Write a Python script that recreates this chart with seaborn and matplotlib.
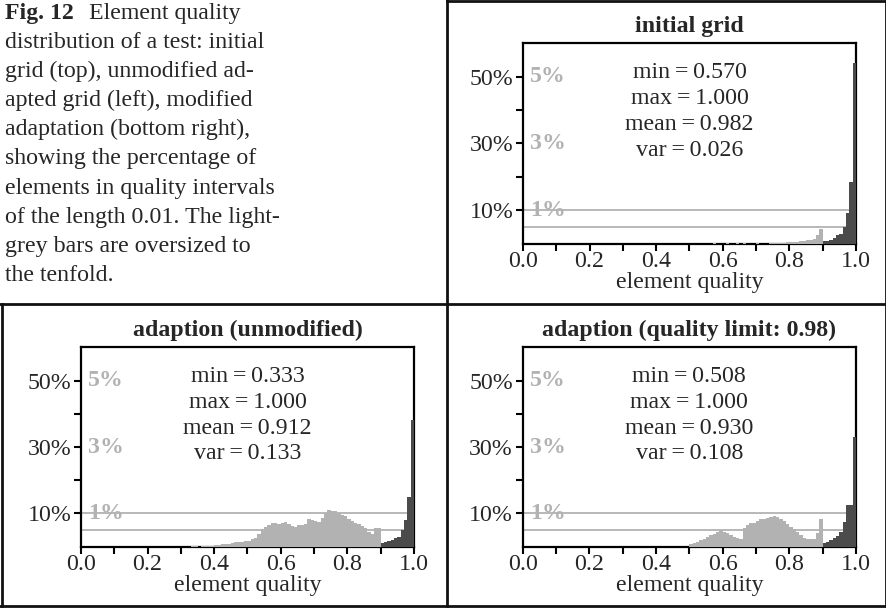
import numpy as np
import pandas as pd
import matplotlib
matplotlib.use("Agg")
import matplotlib.pyplot as plt
from matplotlib.lines import Line2D
from matplotlib.ticker import FixedLocator
import seaborn as sns

# ---------------- data ----------------
BIN_WIDTH = 0.01          # quality interval length
LIGHT_LIMIT = 0.90        # bins below this are drawn light grey ...
LIGHT_SCALE = 10          # ... and oversized tenfold

panel_titles = ["initial grid", "adaption (unmodified)", "adaption (quality limit: 0.98)"]
stat_min = [0.570, 0.333, 0.508]
stat_max = [1.000, 1.000, 1.000]
stat_mean = [0.982, 0.912, 0.930]
stat_var = [0.026, 0.133, 0.108]

# percentage of elements per 0.01 quality interval, starting at the first bin given
initial_first_bin = 0.57
initial_pct = [0.03, 0.00, 0.00, 0.00, 0.03, 0.00, 0.00, 0.03, 0.00, 0.03,   # 0.57-0.66
               0.00, 0.00, 0.00, 0.03, 0.00, 0.00, 0.00, 0.03, 0.02, 0.03,   # 0.67-0.76
               0.03, 0.03, 0.04, 0.04, 0.05, 0.06, 0.07, 0.09, 0.10, 0.12,   # 0.77-0.86
               0.15, 0.25, 0.43,                                             # 0.87-0.89
               0.8, 0.8, 1.2, 1.8, 2.5, 2.8, 5.0, 9.2, 18.6, 54.0]           # 0.90-0.99

unmodified_first_bin = 0.33
unmodified_pct = [0.02, 0.02, 0.00, 0.02, 0.02, 0.03, 0.03, 0.04, 0.05, 0.07,  # 0.33-0.42
                  0.08, 0.09, 0.11, 0.14, 0.14, 0.15, 0.16, 0.17, 0.22, 0.27,  # 0.43-0.52
                  0.39, 0.52, 0.60, 0.64, 0.72, 0.70, 0.69, 0.72, 0.74, 0.67,  # 0.53-0.62
                  0.62, 0.59, 0.64, 0.65, 0.67, 0.84, 0.80, 0.77, 0.74, 0.87,  # 0.63-0.72
                  1.02, 1.09, 1.07, 1.07, 1.00, 0.94, 0.92, 0.84, 0.77, 0.72,  # 0.73-0.82
                  0.67, 0.62, 0.55, 0.45, 0.38, 0.55, 0.57,                    # 0.83-0.89
                  1.0, 1.3, 1.6, 2.0, 2.5, 3.0, 5.0, 8.0, 15.0, 38.0]          # 0.90-0.99

limited_first_bin = 0.50
limited_pct = [0.07, 0.10, 0.14, 0.19, 0.24, 0.29, 0.34, 0.39, 0.45, 0.49,  # 0.50-0.59
               0.45, 0.40, 0.35, 0.30, 0.25, 0.22, 0.55, 0.65, 0.70, 0.72,  # 0.60-0.69
               0.77, 0.82, 0.84, 0.87, 0.89, 0.92, 0.90, 0.84, 0.77, 0.69,  # 0.70-0.79
               0.60, 0.52, 0.44, 0.35, 0.27, 0.22, 0.22, 0.24, 0.42, 0.82,  # 0.80-0.89
               1.2, 1.5, 2.0, 2.5, 3.2, 4.5, 7.5, 12.5, 12.5, 33.0]         # 0.90-0.99

x_major = [0.0, 0.2, 0.4, 0.6, 0.8, 1.0]
x_major_labels = ["0.0", "0.2", "0.4", "0.6", "0.8", "1.0"]
x_minor = [0.1, 0.3, 0.5, 0.7, 0.9]
y_major = [10, 30, 50]
y_major_labels = ["10%", "30%", "50%"]
y_minor = [20, 40]
y_scaled_labels = ["1%", "3%", "5%"]
ref_levels = [10, 5]

caption_lines = [
    "distribution of a test: initial",
    "grid (top), unmodified ad-",
    "apted grid (left), modified",
    "adaptation (bottom right),",
    "showing the percentage of",
    "elements in quality intervals",
    "of the length 0.01. The light-",
    "grey bars are oversized to",
    "the tenfold.",
]

# ---------------- style ----------------
sns.set_style("ticks")
plt.rcParams["font.family"] = ["Liberation Serif", "DejaVu Serif"]

FS = 17.2
LIGHT = "#b2b2b2"
DARK = "#4b4b4b"
W, H = 887, 608
TS = "\u2009"  # thin space around "="

fig = plt.figure(figsize=(W / 100, H / 100), dpi=100)
fig.patch.set_facecolor("white")


def rect(x0, y0, x1, y1):
    return [x0 / W, 1 - y1 / H, (x1 - x0) / W, (y1 - y0) / H]


panel_rects = [rect(523, 43.3, 856, 243.7),
               rect(81, 347.3, 414, 546.7),
               rect(522.7, 347.3, 856, 546.7)]
panel_data = [(initial_first_bin, initial_pct),
              (unmodified_first_bin, unmodified_pct),
              (limited_first_bin, limited_pct)]

for i, (r, (first, pct)) in enumerate(zip(panel_rects, panel_data)):
    ax = fig.add_axes(r)
    left = np.round(first + BIN_WIDTH * np.arange(len(pct)), 2)
    pct = np.asarray(pct, dtype=float)
    light = left < LIGHT_LIMIT - 1e-9
    df = pd.DataFrame({
        "quality": left + BIN_WIDTH / 2,
        "shown": np.where(light, pct * LIGHT_SCALE, pct),
        "shade": np.where(light, "light", "dark"),
    })
    for lv in ref_levels:
        ax.axhline(lv, color=LIGHT, lw=1.3, zorder=0.5)
    sns.histplot(data=df, x="quality", weights="shown", hue="shade",
                 hue_order=["light", "dark"], palette={"light": LIGHT, "dark": DARK},
                 binwidth=BIN_WIDTH, binrange=(0.0, 1.0), multiple="layer",
                 element="bars", fill=True, alpha=1, linewidth=0,
                 legend=False, ax=ax, zorder=3)
    ax.set_xlim(0, 1)
    ax.set_ylim(0, 60)
    ax.set_ylabel("")
    ax.set_xlabel("element quality", fontsize=FS, labelpad=0.5)
    ax.set_title(panel_titles[i], fontsize=FS, fontweight="bold", pad=8)

    ax.xaxis.set_major_locator(FixedLocator(x_major))
    ax.set_xticklabels(x_major_labels, fontsize=FS)
    ax.xaxis.set_minor_locator(FixedLocator(x_minor))
    ax.yaxis.set_major_locator(FixedLocator(y_major))
    ax.set_yticklabels(y_major_labels, fontsize=FS)
    ax.yaxis.set_minor_locator(FixedLocator(y_minor))
    ax.tick_params(which="both", direction="out", length=5, width=1.5, color="black")
    ax.tick_params(axis="x", which="major", pad=0)
    ax.tick_params(axis="y", which="major", pad=2)
    for s in ax.spines.values():
        s.set_visible(True)
        s.set_linewidth(1.6)
        s.set_color("black")

    for yv, lab in zip(y_major, y_scaled_labels):
        ax.text(0.022, yv, lab, transform=ax.get_yaxis_transform(), color=LIGHT,
                fontsize=FS, fontweight="bold", va="center", ha="left", zorder=4)

    stats = [f"min{TS}={TS}{stat_min[i]:.3f}", f"max{TS}={TS}{stat_max[i]:.3f}",
             f"mean{TS}={TS}{stat_mean[i]:.3f}", f"var{TS}={TS}{stat_var[i]:.3f}"]
    for k, line in enumerate(stats):
        ax.text(0.5, 51.2 - 7.75 * k, line, transform=ax.get_yaxis_transform(),
                fontsize=FS, ha="center", va="center", zorder=5)

# ---------------- caption ----------------
fig.text(5 / W, 1 - 18.5 / H, "Fig. 12", fontsize=FS, fontweight="bold", va="baseline", ha="left")
fig.text(89 / W, 1 - 18.5 / H, "Element quality", fontsize=FS, va="baseline", ha="left")
for k, line in enumerate(caption_lines):
    fig.text(5 / W, 1 - (18.5 + 29.2 * (k + 1)) / H, line, fontsize=FS, va="baseline", ha="left")

# ---------------- panel frames ----------------
def fline(x0, y0, x1, y1):
    fig.add_artist(Line2D([x0 / W, x1 / W], [1 - y0 / H, 1 - y1 / H],
                          transform=fig.transFigure, color="#111111", lw=2.0,
                          solid_capstyle="projecting"))

fline(446.7, 1, 886, 1)
fline(446.7, 0, 446.7, 606)
fline(0, 304, 887, 304)
fline(2, 304, 2, 606)
fline(0, 606, 887, 606)
fline(886, 0, 886, 606)

fig.savefig("out.png", dpi=100)
